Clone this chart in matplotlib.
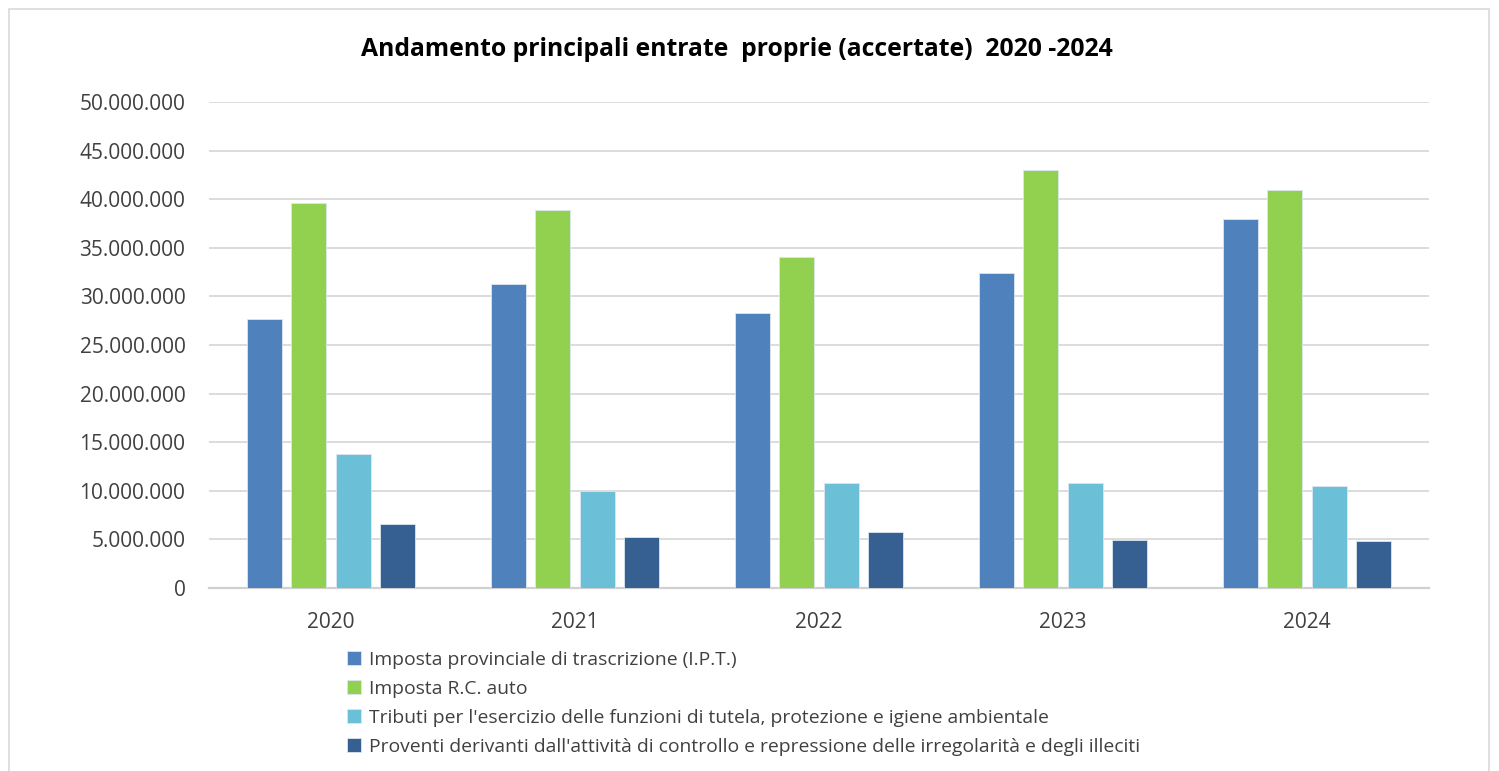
import matplotlib
matplotlib.use("Agg")
import matplotlib.pyplot as plt
from matplotlib.patches import Rectangle
from matplotlib.ticker import FuncFormatter
import numpy as np

plt.rcParams['font.family'] = ['Open Sans', 'DejaVu Sans']

years = ["2020", "2021", "2022", "2023", "2024"]
series_names = [
    "Imposta provinciale di trascrizione (I.P.T.)",
    "Imposta R.C. auto",
    "Tributi per l'esercizio delle funzioni di tutela, protezione e igiene ambientale",
    "Proventi derivanti dall'attività di controllo e repressione delle irregolarità e degli illeciti",
]
ipt = [27650000, 31240000, 28260000, 32370000, 37990000]
rc_auto = [39570000, 38850000, 34080000, 42990000, 40900000]
tributi = [13800000, 9930000, 10790000, 10790000, 10480000]
proventi = [6580000, 5200000, 5710000, 4930000, 4830000]
colors = ["#4F81BD", "#92D050", "#6BBFD7", "#366092"]
title = "Andamento principali entrate  proprie (accertate)  2020 -2024"

fig = plt.figure(figsize=(14.99, 7.71), dpi=100)
ax = fig.add_axes([209/1499, 1-588/771, (1429-209)/1499, (588-102)/771])

x = np.arange(len(years))
pitch = 0.1816
width = 0.143
data = [ipt, rc_auto, tributi, proventi]
for i, (vals, col, name) in enumerate(zip(data, colors, series_names)):
    ax.bar(x + (i - 1.5) * pitch, vals, width=width, color=col, label=name,
           edgecolor="#dce6f0", linewidth=0.6, zorder=3)

ax.set_xlim(-0.5, len(years) - 0.5)
ax.set_ylim(0, 50000000)
ax.set_yticks(np.arange(0, 50000001, 5000000))
ax.yaxis.set_major_formatter(FuncFormatter(lambda v, p: f"{int(v):,}".replace(",", ".")))
ax.set_xticks(x)
ax.set_xticklabels(years)
ax.grid(axis="y", color="#d9d9d9", linewidth=1.3, zorder=0)
ax.set_axisbelow(True)
for s in ["top", "right", "left"]:
    ax.spines[s].set_visible(False)
ax.spines["bottom"].set_color("#d0d0d0")
ax.spines["bottom"].set_linewidth(1.6)
ax.tick_params(axis="both", length=0, labelsize=15, labelcolor="#404040")
ax.tick_params(axis="y", pad=17)
ax.tick_params(axis="x", pad=17)

fig.text(737/1499, 1-50/771, title, ha="center", va="center",
         fontsize=17.8, fontweight="bold", color="black")

fig.legend(loc="upper left", bbox_to_anchor=(347/1499, 1-651/771), frameon=False,
           fontsize=13.85, handlelength=0.75, handleheight=0.75, handletextpad=0.37,
           labelspacing=0.57, borderpad=0, borderaxespad=0, labelcolor="#404040")

fig.patches.append(Rectangle((9/1499, -0.05), (1489-9)/1499, 1.05 - 9/771,
                             transform=fig.transFigure, fill=False,
                             edgecolor="#d9d9d9", linewidth=1.2))

fig.savefig("out.png", dpi=100, facecolor="white")
